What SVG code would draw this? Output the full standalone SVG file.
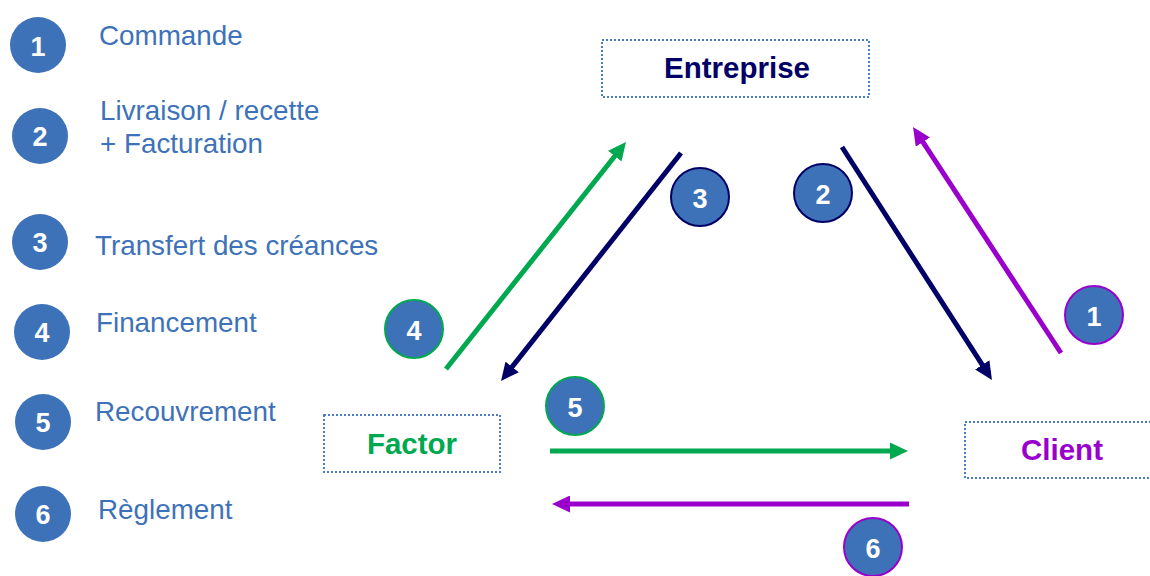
<svg xmlns="http://www.w3.org/2000/svg" width="1150" height="576" viewBox="0 0 1150 576">
<style>
.leg{font-family:"Liberation Sans",Arial,sans-serif;font-size:27.8px;fill:#3E72B8}
.num{font-family:"Liberation Sans",Arial,sans-serif;font-size:27px;font-weight:bold;fill:#fff;text-anchor:middle}
.lc{fill:#3D72B8}
.dc{fill:#3D72B8;stroke-width:2}
.box{fill:#fff;stroke:#4A7CC4;stroke-width:2;stroke-dasharray:2 2}
.bt{font-family:"Liberation Sans",Arial,sans-serif;font-size:29.5px;font-weight:bold;text-anchor:middle}
.ln{fill:none;stroke-width:5}
</style>
<defs>
<marker id="aG" viewBox="0 0 18 17" refX="4" refY="8.5" markerWidth="18" markerHeight="17" markerUnits="userSpaceOnUse" orient="auto"><path d="M0,0 L18,8.5 L0,17 z" fill="#00A84F"/></marker>
<marker id="aN" viewBox="0 0 18 17" refX="4" refY="8.5" markerWidth="18" markerHeight="17" markerUnits="userSpaceOnUse" orient="auto"><path d="M0,0 L18,8.5 L0,17 z" fill="#000066"/></marker>
<marker id="aP" viewBox="0 0 18 17" refX="4" refY="8.5" markerWidth="18" markerHeight="17" markerUnits="userSpaceOnUse" orient="auto"><path d="M0,0 L18,8.5 L0,17 z" fill="#9900CC"/></marker>
</defs>
<rect width="1150" height="576" fill="#fff"/>
<g id="legend">
<g id="leg1"><circle class="lc" cx="38" cy="45" r="28"/><text class="num" x="38" y="56">1</text><text class="leg" x="99" y="45">Commande</text></g>
<g id="leg2"><circle class="lc" cx="40" cy="136" r="28"/><text class="num" x="40" y="146">2</text><text class="leg" x="100" y="120">Livraison / recette</text><text class="leg" x="100" y="153">+ Facturation</text></g>
<g id="leg3"><circle class="lc" cx="40" cy="242" r="28"/><text class="num" x="40" y="252">3</text><text class="leg" x="95" y="255">Transfert des créances</text></g>
<g id="leg4"><circle class="lc" cx="42" cy="332" r="28"/><text class="num" x="42" y="342">4</text><text class="leg" x="96" y="332">Financement</text></g>
<g id="leg5"><circle class="lc" cx="43" cy="422" r="28"/><text class="num" x="43" y="432">5</text><text class="leg" x="95" y="421">Recouvrement</text></g>
<g id="leg6"><circle class="lc" cx="43" cy="514" r="28"/><text class="num" x="43" y="524">6</text><text class="leg" x="98" y="519">Règlement</text></g>
</g>
<g id="connectors">
<path class="ln" stroke="#00A84F" d="M446,369 L617.3,153" marker-end="url(#aG)"/>
<path class="ln" stroke="#000066" d="M681,153 L509.7,370" marker-end="url(#aN)"/>
<path class="ln" stroke="#000066" d="M842,147 L984.4,368.2" marker-end="url(#aN)"/>
<path class="ln" stroke="#9900CC" d="M1061,353 L920.7,138.7" marker-end="url(#aP)"/>
<path class="ln" stroke="#00A84F" d="M550,451 L894,451" marker-end="url(#aG)"/>
<path class="ln" stroke="#9900CC" d="M909,504 L566,504" marker-end="url(#aP)"/>
</g>
<g id="badges">
<g id="b3"><circle class="dc" stroke="#000066" cx="700" cy="197" r="29"/><text class="num" x="700" y="208">3</text></g>
<g id="b2"><circle class="dc" stroke="#000066" cx="823" cy="193" r="29"/><text class="num" x="823" y="204">2</text></g>
<g id="b4"><circle class="dc" stroke="#00A84F" cx="414" cy="329" r="29"/><text class="num" x="414" y="340">4</text></g>
<g id="b5"><circle class="dc" stroke="#00A84F" cx="575" cy="406" r="29"/><text class="num" x="575" y="417">5</text></g>
<g id="b1"><circle class="dc" stroke="#9900CC" cx="1094" cy="315" r="29"/><text class="num" x="1094" y="326">1</text></g>
<g id="b6"><circle class="dc" stroke="#9900CC" cx="873" cy="547" r="29"/><text class="num" x="873" y="558">6</text></g>
</g>
<g id="entreprise"><rect class="box" x="602" y="40" width="267" height="57"/><text class="bt" x="737" y="78" fill="#000066">Entreprise</text></g>
<g id="factor"><rect class="box" x="324" y="415" width="176" height="57"/><text class="bt" x="412" y="454" fill="#00A84F">Factor</text></g>
<g id="client"><rect class="box" x="965" y="422" width="200" height="56"/><text class="bt" x="1062" y="460" fill="#9900CC">Client</text></g>
</svg>
